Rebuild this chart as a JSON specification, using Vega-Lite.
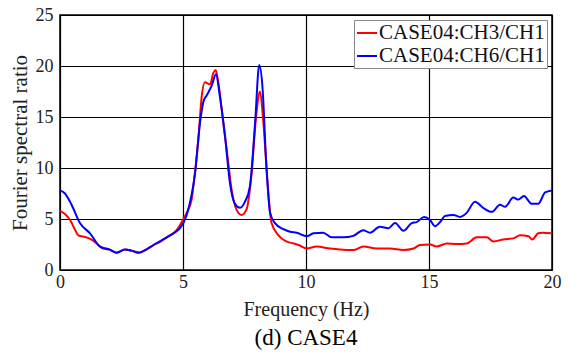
{
  "$schema": "https://vega.github.io/schema/vega-lite/v6.json",
  "autosize": {"type": "none"},
  "padding": {"left": 60, "top": 15, "right": 18, "bottom": 86},
  "width": 492,
  "height": 255,
  "background": "white",
  "title": {"text": "(d) CASE4", "orient": "bottom", "font": "Liberation Serif, Times New Roman, serif", "fontSize": 23, "fontWeight": "normal", "color": "#000", "offset": 8, "anchor": "middle"},
  "config": {
    "font": "Liberation Serif, Times New Roman, serif",
    "view": {"stroke": "#000", "strokeWidth": 1.5},
    "axis": {"labelFont": "Liberation Serif, Times New Roman, serif", "titleFont": "Liberation Serif, Times New Roman, serif", "labelFontSize": 18, "titleFontWeight": "normal", "labelColor": "#222", "titleColor": "#222", "gridColor": "#000", "gridOpacity": 1, "gridWidth": 1.2, "domain": false, "ticks": false}
  },
  "data": {"values": [
    {"f":0,"v":5.8,"s":"CASE04:CH3/CH1"},{"f":0.2,"v":5.5,"s":"CASE04:CH3/CH1"},{"f":0.41,"v":4.9,"s":"CASE04:CH3/CH1"},{"f":0.6,"v":4.0,"s":"CASE04:CH3/CH1"},{"f":0.74,"v":3.4,"s":"CASE04:CH3/CH1"},{"f":1.08,"v":3.2,"s":"CASE04:CH3/CH1"},{"f":1.3,"v":2.95,"s":"CASE04:CH3/CH1"},{"f":1.49,"v":2.6,"s":"CASE04:CH3/CH1"},{"f":1.76,"v":2.1,"s":"CASE04:CH3/CH1"},{"f":2.0,"v":2.0,"s":"CASE04:CH3/CH1"},{"f":2.3,"v":1.7,"s":"CASE04:CH3/CH1"},{"f":2.64,"v":2.0,"s":"CASE04:CH3/CH1"},{"f":2.9,"v":1.9,"s":"CASE04:CH3/CH1"},{"f":3.25,"v":1.7,"s":"CASE04:CH3/CH1"},{"f":3.5,"v":2.0,"s":"CASE04:CH3/CH1"},{"f":3.8,"v":2.45,"s":"CASE04:CH3/CH1"},{"f":4.1,"v":2.8,"s":"CASE04:CH3/CH1"},{"f":4.34,"v":3.2,"s":"CASE04:CH3/CH1"},{"f":4.74,"v":3.9,"s":"CASE04:CH3/CH1"},{"f":4.88,"v":4.4,"s":"CASE04:CH3/CH1"},{"f":4.99,"v":4.9,"s":"CASE04:CH3/CH1"},{"f":5.15,"v":5.6,"s":"CASE04:CH3/CH1"},{"f":5.35,"v":6.9,"s":"CASE04:CH3/CH1"},{"f":5.42,"v":8.2,"s":"CASE04:CH3/CH1"},{"f":5.62,"v":12.7,"s":"CASE04:CH3/CH1"},{"f":5.76,"v":17.0,"s":"CASE04:CH3/CH1"},{"f":5.89,"v":18.4,"s":"CASE04:CH3/CH1"},{"f":6.1,"v":18.2,"s":"CASE04:CH3/CH1"},{"f":6.23,"v":19.3,"s":"CASE04:CH3/CH1"},{"f":6.33,"v":19.6,"s":"CASE04:CH3/CH1"},{"f":6.44,"v":18.3,"s":"CASE04:CH3/CH1"},{"f":6.64,"v":14.4,"s":"CASE04:CH3/CH1"},{"f":6.84,"v":10.5,"s":"CASE04:CH3/CH1"},{"f":6.98,"v":7.8,"s":"CASE04:CH3/CH1"},{"f":7.18,"v":5.9,"s":"CASE04:CH3/CH1"},{"f":7.38,"v":5.4,"s":"CASE04:CH3/CH1"},{"f":7.59,"v":6.0,"s":"CASE04:CH3/CH1"},{"f":7.79,"v":9.5,"s":"CASE04:CH3/CH1"},{"f":7.97,"v":15.0,"s":"CASE04:CH3/CH1"},{"f":8.13,"v":17.5,"s":"CASE04:CH3/CH1"},{"f":8.27,"v":14.4,"s":"CASE04:CH3/CH1"},{"f":8.43,"v":8.8,"s":"CASE04:CH3/CH1"},{"f":8.6,"v":4.6,"s":"CASE04:CH3/CH1"},{"f":8.88,"v":3.4,"s":"CASE04:CH3/CH1"},{"f":9.2,"v":2.8,"s":"CASE04:CH3/CH1"},{"f":9.5,"v":2.6,"s":"CASE04:CH3/CH1"},{"f":9.7,"v":2.45,"s":"CASE04:CH3/CH1"},{"f":10.03,"v":2.1,"s":"CASE04:CH3/CH1"},{"f":10.43,"v":2.3,"s":"CASE04:CH3/CH1"},{"f":10.98,"v":2.1,"s":"CASE04:CH3/CH1"},{"f":11.38,"v":2.0,"s":"CASE04:CH3/CH1"},{"f":11.92,"v":1.95,"s":"CASE04:CH3/CH1"},{"f":12.33,"v":2.3,"s":"CASE04:CH3/CH1"},{"f":12.87,"v":2.1,"s":"CASE04:CH3/CH1"},{"f":13.41,"v":2.1,"s":"CASE04:CH3/CH1"},{"f":13.96,"v":1.95,"s":"CASE04:CH3/CH1"},{"f":14.37,"v":2.1,"s":"CASE04:CH3/CH1"},{"f":14.63,"v":2.45,"s":"CASE04:CH3/CH1"},{"f":15.04,"v":2.5,"s":"CASE04:CH3/CH1"},{"f":15.31,"v":2.3,"s":"CASE04:CH3/CH1"},{"f":15.72,"v":2.6,"s":"CASE04:CH3/CH1"},{"f":16.13,"v":2.55,"s":"CASE04:CH3/CH1"},{"f":16.53,"v":2.6,"s":"CASE04:CH3/CH1"},{"f":16.94,"v":3.2,"s":"CASE04:CH3/CH1"},{"f":17.35,"v":3.2,"s":"CASE04:CH3/CH1"},{"f":17.62,"v":2.8,"s":"CASE04:CH3/CH1"},{"f":18.02,"v":3.0,"s":"CASE04:CH3/CH1"},{"f":18.43,"v":3.1,"s":"CASE04:CH3/CH1"},{"f":18.7,"v":3.4,"s":"CASE04:CH3/CH1"},{"f":19.04,"v":3.3,"s":"CASE04:CH3/CH1"},{"f":19.2,"v":3.0,"s":"CASE04:CH3/CH1"},{"f":19.44,"v":3.6,"s":"CASE04:CH3/CH1"},{"f":19.6,"v":3.65,"s":"CASE04:CH3/CH1"},{"f":20,"v":3.6,"s":"CASE04:CH3/CH1"},
    {"f":0,"v":7.8,"s":"CASE04:CH6/CH1"},{"f":0.2,"v":7.5,"s":"CASE04:CH6/CH1"},{"f":0.47,"v":6.4,"s":"CASE04:CH6/CH1"},{"f":0.81,"v":4.6,"s":"CASE04:CH6/CH1"},{"f":1.22,"v":3.6,"s":"CASE04:CH6/CH1"},{"f":1.63,"v":2.3,"s":"CASE04:CH6/CH1"},{"f":2.03,"v":2.0,"s":"CASE04:CH6/CH1"},{"f":2.3,"v":1.7,"s":"CASE04:CH6/CH1"},{"f":2.64,"v":2.0,"s":"CASE04:CH6/CH1"},{"f":2.9,"v":1.9,"s":"CASE04:CH6/CH1"},{"f":3.18,"v":1.7,"s":"CASE04:CH6/CH1"},{"f":3.5,"v":2.0,"s":"CASE04:CH6/CH1"},{"f":3.8,"v":2.45,"s":"CASE04:CH6/CH1"},{"f":4.34,"v":3.2,"s":"CASE04:CH6/CH1"},{"f":4.74,"v":3.8,"s":"CASE04:CH6/CH1"},{"f":4.88,"v":4.1,"s":"CASE04:CH6/CH1"},{"f":5.15,"v":5.4,"s":"CASE04:CH6/CH1"},{"f":5.49,"v":9.5,"s":"CASE04:CH6/CH1"},{"f":5.69,"v":14.4,"s":"CASE04:CH6/CH1"},{"f":5.83,"v":16.5,"s":"CASE04:CH6/CH1"},{"f":5.96,"v":17.1,"s":"CASE04:CH6/CH1"},{"f":6.17,"v":18.1,"s":"CASE04:CH6/CH1"},{"f":6.34,"v":19.2,"s":"CASE04:CH6/CH1"},{"f":6.5,"v":17.0,"s":"CASE04:CH6/CH1"},{"f":6.71,"v":13.1,"s":"CASE04:CH6/CH1"},{"f":6.91,"v":8.5,"s":"CASE04:CH6/CH1"},{"f":7.11,"v":6.5,"s":"CASE04:CH6/CH1"},{"f":7.32,"v":6.1,"s":"CASE04:CH6/CH1"},{"f":7.52,"v":6.7,"s":"CASE04:CH6/CH1"},{"f":7.72,"v":8.2,"s":"CASE04:CH6/CH1"},{"f":7.93,"v":14.4,"s":"CASE04:CH6/CH1"},{"f":8.1,"v":20.1,"s":"CASE04:CH6/CH1"},{"f":8.24,"v":17.6,"s":"CASE04:CH6/CH1"},{"f":8.37,"v":11.1,"s":"CASE04:CH6/CH1"},{"f":8.54,"v":5.6,"s":"CASE04:CH6/CH1"},{"f":8.74,"v":4.6,"s":"CASE04:CH6/CH1"},{"f":9.08,"v":4.0,"s":"CASE04:CH6/CH1"},{"f":9.35,"v":3.75,"s":"CASE04:CH6/CH1"},{"f":9.62,"v":3.65,"s":"CASE04:CH6/CH1"},{"f":10.03,"v":3.3,"s":"CASE04:CH6/CH1"},{"f":10.3,"v":3.6,"s":"CASE04:CH6/CH1"},{"f":10.7,"v":3.65,"s":"CASE04:CH6/CH1"},{"f":11.04,"v":3.2,"s":"CASE04:CH6/CH1"},{"f":11.52,"v":3.2,"s":"CASE04:CH6/CH1"},{"f":11.92,"v":3.35,"s":"CASE04:CH6/CH1"},{"f":12.33,"v":3.9,"s":"CASE04:CH6/CH1"},{"f":12.6,"v":3.65,"s":"CASE04:CH6/CH1"},{"f":13.0,"v":4.25,"s":"CASE04:CH6/CH1"},{"f":13.35,"v":4.1,"s":"CASE04:CH6/CH1"},{"f":13.62,"v":4.6,"s":"CASE04:CH6/CH1"},{"f":13.96,"v":3.85,"s":"CASE04:CH6/CH1"},{"f":14.3,"v":4.6,"s":"CASE04:CH6/CH1"},{"f":14.5,"v":4.7,"s":"CASE04:CH6/CH1"},{"f":14.8,"v":5.2,"s":"CASE04:CH6/CH1"},{"f":15.04,"v":4.9,"s":"CASE04:CH6/CH1"},{"f":15.24,"v":4.3,"s":"CASE04:CH6/CH1"},{"f":15.45,"v":4.7,"s":"CASE04:CH6/CH1"},{"f":15.65,"v":5.3,"s":"CASE04:CH6/CH1"},{"f":15.99,"v":5.4,"s":"CASE04:CH6/CH1"},{"f":16.26,"v":5.2,"s":"CASE04:CH6/CH1"},{"f":16.53,"v":5.6,"s":"CASE04:CH6/CH1"},{"f":16.87,"v":6.7,"s":"CASE04:CH6/CH1"},{"f":17.2,"v":6.1,"s":"CASE04:CH6/CH1"},{"f":17.55,"v":5.7,"s":"CASE04:CH6/CH1"},{"f":17.89,"v":6.4,"s":"CASE04:CH6/CH1"},{"f":18.09,"v":6.2,"s":"CASE04:CH6/CH1"},{"f":18.43,"v":7.1,"s":"CASE04:CH6/CH1"},{"f":18.63,"v":6.9,"s":"CASE04:CH6/CH1"},{"f":18.86,"v":7.25,"s":"CASE04:CH6/CH1"},{"f":19.17,"v":6.5,"s":"CASE04:CH6/CH1"},{"f":19.44,"v":6.5,"s":"CASE04:CH6/CH1"},{"f":19.72,"v":7.6,"s":"CASE04:CH6/CH1"},{"f":20,"v":7.8,"s":"CASE04:CH6/CH1"}
  ]},
  "mark": {"type": "line", "strokeWidth": 2, "interpolate": "monotone"},
  "encoding": {
    "x": {"field": "f", "type": "quantitative", "title": "Frequency (Hz)", "scale": {"domain": [0, 20], "nice": false}, "axis": {"values": [0, 5, 10, 15, 20], "labelPadding": 3, "titlePadding": 8, "titleFontSize": 20, "labelFlush": false}},
    "y": {"field": "v", "type": "quantitative", "title": "Fourier spectral ratio", "scale": {"domain": [0, 25], "nice": false}, "axis": {"values": [0, 5, 10, 15, 20, 25], "labelPadding": 7, "titlePadding": 5, "titleFontSize": 21}},
    "color": {"field": "s", "type": "nominal", "scale": {"domain": ["CASE04:CH3/CH1", "CASE04:CH6/CH1"], "range": ["#ff0000", "#0000ff"]},
      "legend": {"title": null, "orient": "top-right", "offset": 5, "labelFont": "Liberation Serif, Times New Roman, serif", "labelFontSize": 21, "labelColor": "#111", "symbolType": "stroke", "symbolSize": 400, "symbolStrokeWidth": 2, "strokeColor": "#888", "fillColor": "white", "padding": 2, "rowPadding": 2, "labelOffset": 1, "labelLimit": 300}}
  }
}
